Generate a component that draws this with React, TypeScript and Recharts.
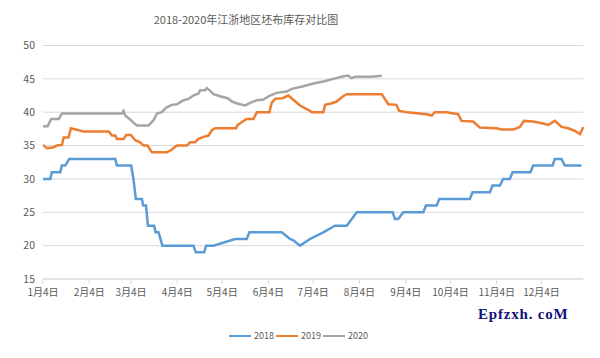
import React from "react";
import { LineChart, Line, XAxis, YAxis, CartesianGrid } from "recharts";

// Day offsets from Jan 4 (x positions) and inventory values per year
const days2018 = [0, 4.9, 5.9, 11.6, 12.6, 14.9, 17.6, 48.4, 49.5, 59.1, 60.6, 62.2, 66.3, 67.1, 69, 70.3, 74.5, 75.4, 77.4, 80, 100.8, 102.4, 108, 109.3, 114.2, 128.7, 136.5, 138.3, 160, 165.5, 167.7, 172.2, 178.9, 187.8, 195.6, 203.5, 210.2, 234.3, 235.8, 238, 241.4, 254.8, 256.6, 263.7, 265.5, 286, 287.8, 299.4, 301.2, 306.1, 308.3, 312.8, 314.6, 326.6, 328.4, 341.4, 342.9, 347.4, 349.6, 360.8];
const values2018 = [30, 30, 31, 31, 32, 32, 33, 33, 32, 32, 30, 27, 27, 26, 26, 23, 23, 22, 22, 20, 20, 19, 19, 20, 20, 21, 21, 22, 22, 21, 20.8, 20, 21, 22, 23, 23, 25, 25, 24, 24, 25, 25, 26, 26, 27, 27, 28, 28, 29, 29, 30, 30, 31, 31, 32, 32, 33, 33, 32, 32];

const days2019 = [0, 2.7, 6.7, 9.4, 12.7, 13.8, 17.1, 18.7, 27.1, 44, 46.2, 48.4, 49.5, 54, 55.8, 58.9, 61.8, 65.1, 67.3, 70, 73, 83, 86.4, 89.7, 96.4, 98.6, 101.9, 104.2, 107.5, 110.9, 113.1, 115.4, 129.4, 130.1, 133, 136.5, 141, 143.3, 151.7, 153.2, 155.5, 160.5, 164.4, 172.2, 178.9, 180, 187.8, 189, 193, 196.7, 201, 203.5, 227, 231.4, 236.8, 238.6, 243.7, 257, 260.4, 262.6, 270.4, 278.2, 280.4, 288.2, 292.7, 303.8, 307.2, 315, 319.5, 322.2, 328.4, 335.1, 338.5, 343, 347.4, 351.9, 356.4, 359.8, 362];
const values2019 = [35.1, 34.6, 34.7, 35, 35.1, 36.2, 36.2, 37.6, 37.1, 37.1, 36.5, 36.5, 36, 36, 36.6, 36.6, 35.8, 35.5, 35, 35, 34, 34, 34.4, 35, 35, 35.5, 35.5, 36, 36.3, 36.5, 37.3, 37.6, 37.6, 38, 38.5, 39, 39, 40, 40, 41.4, 42, 42.1, 42.5, 41, 40.2, 40, 40, 41.1, 41.3, 41.6, 42.4, 42.7, 42.7, 41.2, 41.1, 40.2, 40, 39.7, 39.5, 40, 40, 39.7, 38.7, 38.6, 37.7, 37.6, 37.4, 37.4, 37.8, 38.7, 38.6, 38.3, 38.1, 38.7, 37.8, 37.6, 37.2, 36.7, 37.8];

const days2020 = [0, 3.1, 5.4, 10.5, 12.7, 52.9, 54, 55.1, 58, 60.7, 63, 70.7, 74.1, 76.3, 79.6, 82.5, 86.4, 89.7, 94.1, 97.5, 100.8, 104.2, 105.3, 108.6, 109.8, 112, 114.2, 118.6, 123.7, 126.6, 130.1, 135.4, 138.8, 143.3, 147.7, 152.1, 156.6, 163.3, 166.7, 174.4, 181.1, 187.8, 194.5, 201.2, 204.6, 206.6, 209, 220, 227];
const values2020 = [37.9, 37.9, 39, 39, 39.8, 39.8, 40.2, 39.5, 39, 38.4, 38, 38, 38.8, 39.8, 40, 40.7, 41.1, 41.2, 41.8, 42, 42.5, 42.8, 43.3, 43.3, 43.6, 43.2, 42.7, 42.4, 42.1, 41.6, 41.3, 41, 41.4, 41.8, 41.9, 42.5, 42.9, 43.1, 43.5, 43.9, 44.3, 44.6, 45, 45.4, 45.5, 45.1, 45.3, 45.3, 45.45];

const tickDays = [0, 31, 59, 90, 120, 151, 181, 212, 243, 273, 304, 334];
const tickLabels = ["1月4日", "2月4日", "3月4日", "4月4日", "5月4日", "6月4日", "7月4日", "8月4日", "9月4日", "10月4日", "11月4日", "12月4日"];
const yTicks = [15, 20, 25, 30, 35, 40, 45, 50];

const seriesNames = ["2018", "2019", "2020"];
const seriesColors = ["#5b9bd5", "#ed7d31", "#a5a5a5"];

const titleText = "2018-2020年江浙地区坯布库存对比图";
const watermarkText = "Epfzxh. coM";

const zip = (d: number[], v: number[]) => d.map((x, i) => ({ day: x, value: v[i] }));
const seriesData = [zip(days2018, values2018), zip(days2019, values2019), zip(days2020, values2020)];

const fontCJK = "'Noto Sans CJK SC', 'Noto Sans', sans-serif";

export default function App() {
  return (
    <div style={{ position: "relative", width: 600, height: 358, margin: -8, background: "#fff", fontFamily: fontCJK }}>
      <div style={{ position: "absolute", left: 3, top: 3, width: 591, height: 349, border: "1px solid #d9d9d9", boxSizing: "border-box" }} />
      <div style={{ position: "absolute", left: 246 - 150, width: 300, top: 10, textAlign: "center", fontSize: 11, color: "#595959", lineHeight: "18px" }}>
        {titleText}
      </div>
      <div style={{ position: "absolute", left: 0, top: 0 }}>
        <LineChart width={600} height={358} margin={{ top: 45.5, right: 16.7, bottom: 49, left: 0 }}>
          <CartesianGrid vertical={false} stroke="#d9d9d9" />
          <XAxis
            dataKey="day"
            type="number"
            domain={[0, 362]}
            ticks={tickDays}
            tickFormatter={(v: number) => tickLabels[tickDays.indexOf(v)] ?? ""}
            stroke="#d9d9d9"
            tickSize={5}
            tickMargin={5}
            height={30}
            interval={0}
            allowDuplicatedCategory={false}
            tick={{ fill: "#595959", fontSize: 10, fontFamily: fontCJK }}
          />
          <YAxis
            type="number"
            domain={[15, 50]}
            ticks={yTicks}
            width={43}
            axisLine={false}
            tickLine={false}
            tick={{ fill: "#595959", fontSize: 10.5, fontFamily: fontCJK }}
          />
          {seriesData.map((d, i) => (
            <Line
              key={seriesNames[i]}
              data={d}
              dataKey="value"
              name={seriesNames[i]}
              type="linear"
              stroke={seriesColors[i]}
              strokeWidth={2.5}
              dot={false}
              isAnimationActive={false}
            />
          ))}
        </LineChart>
      </div>
      <div style={{ position: "absolute", left: 229, top: 329, display: "flex", alignItems: "center", fontSize: 9, color: "#595959", lineHeight: "14px" }}>
        {seriesNames.map((n, i) => (
          <div key={n} style={{ display: "flex", alignItems: "center", marginRight: 2 }}>
            <div style={{ width: 22, height: 2.5, background: seriesColors[i], marginRight: 3 }} />
            <span>{n}</span>
          </div>
        ))}
      </div>
      <div style={{ position: "absolute", left: 478, top: 306, fontSize: 15, fontWeight: "bold", color: "#10107a", fontFamily: "'Liberation Serif', serif", letterSpacing: 0.8, whiteSpace: "nowrap" }}>
        {watermarkText}
      </div>
    </div>
  );
}
